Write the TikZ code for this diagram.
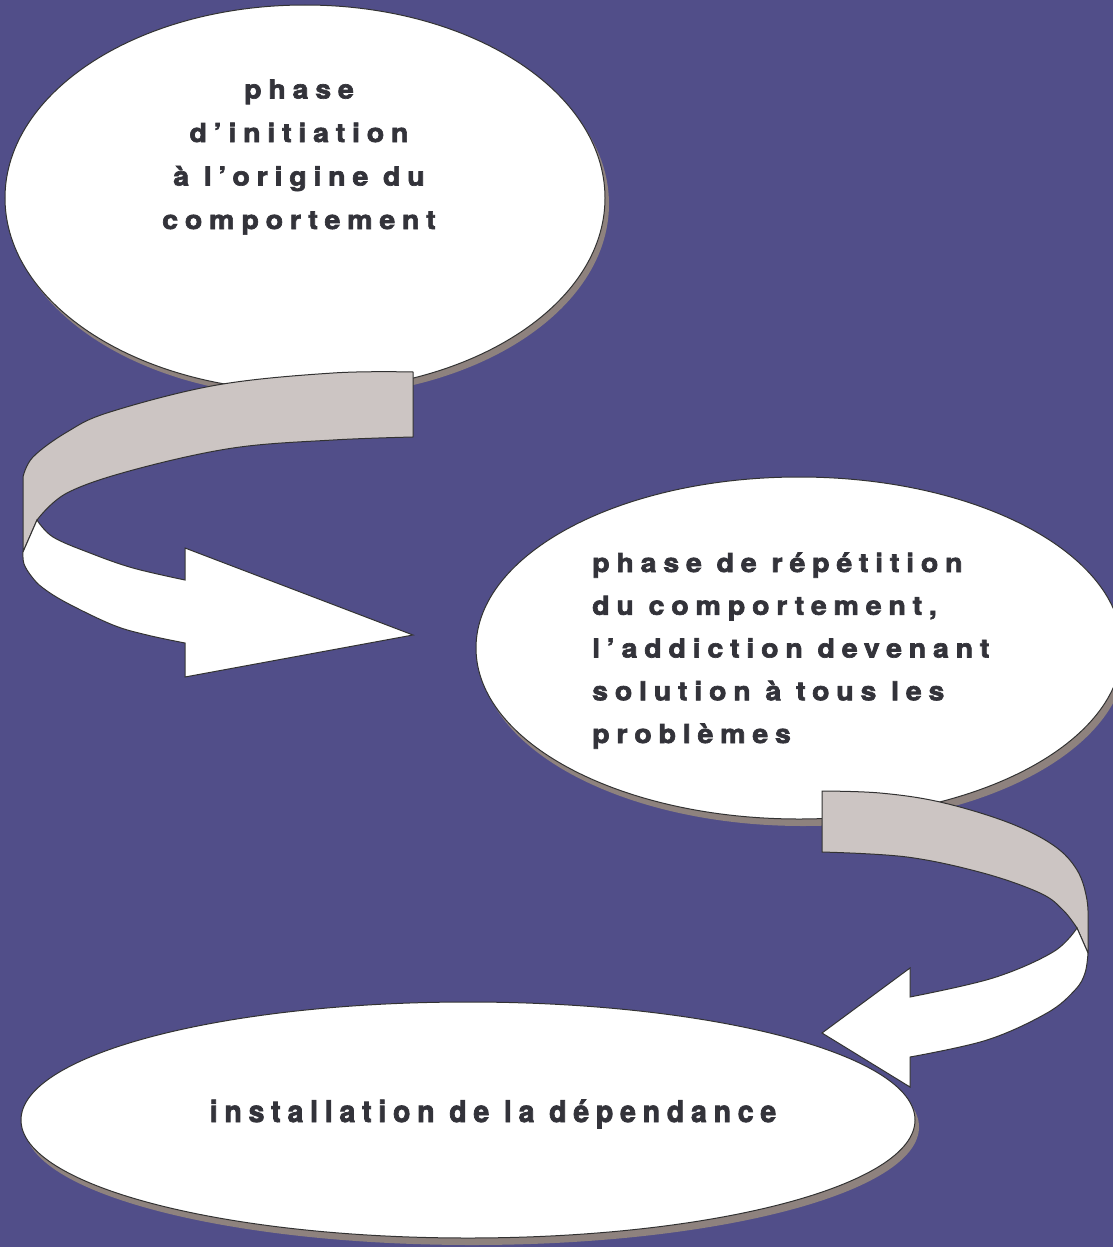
\documentclass[tikz,border=0pt]{standalone}
\usepackage{fontspec}
\usetikzlibrary{shapes.geometric}
\newfontfamily\lblfont{texgyreheros-bold.otf}[LetterSpace=26,FakeStretch=1.1,FakeBold=2.5]
\newfontfamily\lblcfont{texgyreheros-bold.otf}[LetterSpace=22.5,FakeStretch=0.95,FakeBold=2.5]
\definecolor{bgc}{RGB}{81,78,137}
\definecolor{bandc}{RGB}{204,197,195}
\definecolor{shadc}{RGB}{142,130,126}
\definecolor{linec}{RGB}{50,50,50}
\definecolor{textc}{RGB}{51,51,58}
\tikzset{
  bubble/.style={ellipse, draw=linec, line width=1pt, fill=white, inner sep=0pt},
  bubshadow/.style={ellipse, fill=shadc, inner sep=0pt},
  band/.style={fill=bandc, draw=linec, line width=1pt, line join=round},
  ribbon/.style={fill=white, draw=linec, line width=1pt, line join=miter},
  lbl/.style={text=textc, inner sep=0pt, font=\lblfont\fontsize{26}{43.5}\selectfont},
  lbltwo/.style={text=textc, inner sep=0pt, font=\lblfont\fontsize{26}{42.75}\selectfont},
  lblc/.style={text=textc, inner sep=0pt, font=\lblcfont\fontsize{30}{36}\selectfont}
}
\begin{document}
\begin{tikzpicture}[x=1pt,y=-1pt]
\useasboundingbox (0,0) rectangle (1113,1247);
\fill[bgc] (0,0) rectangle (1113,1247);
\clip (0,0) rectangle (1113,1247);
% bubbles
\node[bubshadow, minimum width=600pt, minimum height=386pt] (e1s) at (309,204) {};
\node[bubble, minimum width=600pt, minimum height=386pt] (e1) at (305,198) {};
\node[bubshadow, minimum width=646pt, minimum height=342pt] (e2s) at (803,655) {};
\node[bubble, minimum width=646pt, minimum height=342pt] (e2) at (799,648) {};
\node[bubshadow, minimum width=894pt, minimum height=236pt] (e3s) at (472,1127) {};
\node[bubble, minimum width=894pt, minimum height=236pt] (e3) at (468,1120) {};
% texts
\node[lbl, anchor=base, align=center] (t1) at (299,229) {phase\\d’initiation\\à l’origine du\\comportement};
\node[lbltwo, anchor=base west, align=left] (t2) at (592,743) {phase de répétition\\du comportement,\\l’addiction devenant\\solution à tous les\\problèmes};
\node[lblc, anchor=base] (t3) at (493,1122) {installation de la dépendance};
% arrow 1
\path[band] (413,372) -- plot[smooth, tension=0.6] coordinates {(413,372) (333,373) (217,385) (110,412) (67,432) (33,457) (23,477)} -- (23,552) -- plot[smooth, tension=0.6] coordinates {(37,520) (67,493) (133,470) (233,448) (333,440) (413,437)} -- cycle;
\path[ribbon] (23,552) -- plot[smooth, tension=0.6] coordinates {(23,552) (24,564) (32,577) (43,588) (67,603) (113,625) (147,635) (185,643)} -- (185,677) -- (413,635) -- (185,548) -- (185,580) -- plot[smooth, tension=0.6] coordinates {(185,580) (133,568) (90,553) (53,537) (37,520)} -- cycle;
% arrow 2
\path[band] (822,791) -- plot[smooth, tension=0.6] coordinates {(822,791) (880,793) (940,802) (1007,822) (1053,845) (1077,870) (1087,900) (1088,930)} -- (1088,953) -- (1077,928) -- plot[smooth, tension=0.6] coordinates {(1077,928) (1063,910) (1040,893) (983,873) (907,857) (822,852)} -- cycle;
\path[ribbon] (1088,953) -- plot[smooth, tension=0.6] coordinates {(1088,953) (1085,973) (1075,990) (1047,1013) (987,1040) (910,1057)} -- (910,1087) -- (822,1033) -- (910,968) -- (910,997) -- plot[smooth, tension=0.6] coordinates {(910,997) (993,978) (1053,952) (1077,928)} -- cycle;
\end{tikzpicture}
\end{document}
